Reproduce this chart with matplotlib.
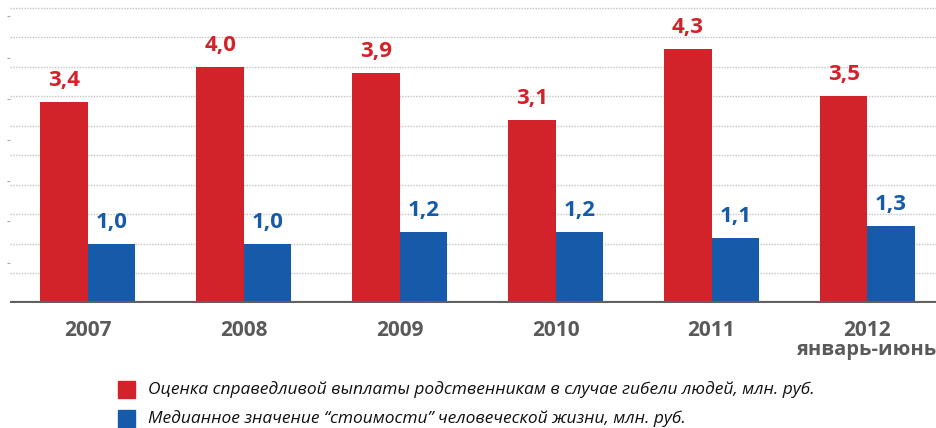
import matplotlib.pyplot as plt
from matplotlib.patches import Rectangle
import numpy as np

# data
years = ['2007', '2008', '2009', '2010', '2011', '2012']
payout = [3.4, 4.0, 3.9, 3.1, 4.3, 3.5]       # red
median_life = [1.0, 1.0, 1.2, 1.2, 1.1, 1.3]  # blue
labels_red = ['3,4', '4,0', '3,9', '3,1', '4,3', '3,5']
labels_blue = ['1,0', '1,0', '1,2', '1,2', '1,1', '1,3']
legend_txt = ['Оценка справедливой выплаты родственникам в случае гибели людей, млн. руб.',
              'Медианное значение “стоимости” человеческой жизни, млн. руб.']

RED = '#D2232A'
BLUE = '#165BAA'
GRAY = '#5A5A5A'
fam = ['Open Sans', 'DejaVu Sans']

W, H = 936, 428
fig = plt.figure(figsize=(W / 100, H / 100), dpi=100)
ax = fig.add_axes([10 / W, 125 / H, 926 / W, 303 / H])

x = np.arange(len(years))
bw = 0.305
ax.bar(x - bw / 2, payout, bw, color=RED, zorder=3)
ax.bar(x + bw / 2, median_life, bw, color=BLUE, zorder=3)

for i in range(len(years)):
    ax.annotate(labels_red[i], (x[i] - bw / 2, payout[i]), xytext=(0, 8),
                textcoords='offset points', ha='center', va='bottom',
                color=RED, fontsize=16, fontweight='bold', family=fam)
    ax.annotate(labels_blue[i], (x[i] + bw / 2, median_life[i]), xytext=(0, 8),
                textcoords='offset points', ha='center', va='bottom',
                color=BLUE, fontsize=16, fontweight='bold', family=fam)

ax.set_xlim(-0.5, 5.44)
ax.set_ylim(0, 5.13)

# dotted grid
for g in np.arange(0.5, 5.01, 0.5):
    ax.axhline(g, color='#C4C4C4', lw=1.0, ls=(0, (1, 1)), zorder=1)

ax.axhline(0, color='#606060', lw=3, zorder=4)

ax.set_xticks(x)
ax.set_xticklabels(years, fontsize=15, fontweight='bold', color=GRAY, family=fam)
ax.tick_params(axis='x', length=0, pad=12)
ax.set_yticks([0.68, 1.38, 2.07, 2.76, 3.46, 4.15, 4.86])
ax.set_yticklabels([])
ax.tick_params(axis='y', length=2, color='#AAAAAA', direction='out', pad=0)
for s in ax.spines.values():
    s.set_visible(False)

ax.text(5.44, -0.62, 'январь-июнь', transform=ax.transData, ha='right', va='top',
        fontsize=14.5, fontweight='bold', color=GRAY, family=fam)

# legend
for k, (c, t) in enumerate(zip([RED, BLUE], legend_txt)):
    y0 = 381 + k * 29
    fig.patches.append(Rectangle((118 / W, 1 - (y0 + 17) / H), 17 / W, 17 / H,
                                 color=c, transform=fig.transFigure, figure=fig))
    fig.text(148 / W, 1 - (y0 + 8.5) / H, t, ha='left', va='center', fontsize=12.5,
             style='italic', color='#111111', family=fam)

fig.savefig('out.png', dpi=100)
